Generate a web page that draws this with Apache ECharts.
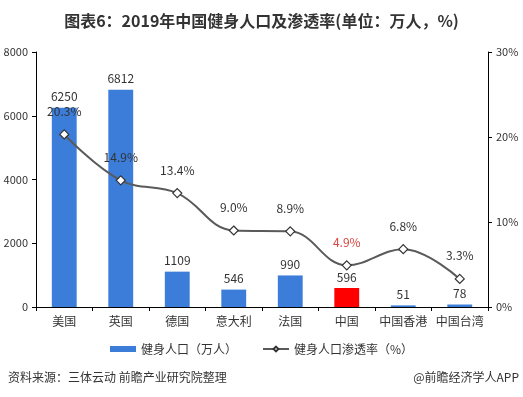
<!DOCTYPE html>
<html>
<head>
<meta charset="utf-8">
<script src="https://cdn.jsdelivr.net/npm/echarts@6/dist/echarts.min.js"></script>
<style>
html,body{margin:0;padding:0;background:#fff;}
#main{width:523px;height:397px;}
</style>
</head>
<body>
<div id="main"></div>
<script>
// 数据
var categories = ['美国', '英国', '德国', '意大利', '法国', '中国', '中国香港', '中国台湾'];
var population = [6250, 6812, 1109, 546, 990, 596, 51, 78];
var rate = [20.3, 14.9, 13.4, 9.0, 8.9, 4.9, 6.8, 3.3];
var leftTicks = [0, 8000, 2000];
var rightTicks = [0, 30, 10];

var font = '"Noto Sans CJK SC", "Microsoft YaHei", sans-serif';
var blue = '#3B7DD8';
var red = '#FF0000';

var chart = echarts.init(document.getElementById('main'));

var barData = population.map(function (v, i) {
    if (categories[i] === '中国') {
        return {value: v, itemStyle: {color: red}};
    }
    return v;
});
var lineData = rate.map(function (v, i) {
    if (categories[i] === '中国') {
        return {value: v, label: {color: '#D9443F'}};
    }
    return v;
});

var option = {
    backgroundColor: '#fff',
    textStyle: {fontFamily: font},
    title: {
        text: '图表6：2019年中国健身人口及渗透率(单位：万人，%)',
        left: 'center',
        top: 8,
        textStyle: {fontSize: 16, fontWeight: 'bold', color: '#333', fontFamily: font}
    },
    legend: {
        bottom: 37,
        left: 'center',
        itemGap: 25,
        textStyle: {fontSize: 12, color: '#333', fontFamily: font},
        data: [
            {name: '健身人口（万人）', icon: 'rect', itemStyle: {color: blue}},
            {name: '健身人口渗透率（%）'}
        ],
        itemWidth: 26,
        itemHeight: 6
    },
    grid: {
        left: 36,
        right: 35,
        top: 52,
        bottom: 90
    },
    xAxis: {
        type: 'category',
        data: categories,
        axisLine: {lineStyle: {color: '#000'}},
        axisTick: {show: true, length: 4, lineStyle: {color: '#000'}},
        axisLabel: {color: '#333', fontSize: 12, margin: 8, interval: 0}
    },
    yAxis: [
        {
            type: 'value',
            min: leftTicks[0],
            max: leftTicks[1],
            interval: leftTicks[2],
            axisLine: {show: true, lineStyle: {color: '#000'}},
            axisTick: {show: true, length: 4, lineStyle: {color: '#000'}},
            splitLine: {show: false},
            axisLabel: {
                color: '#333', fontSize: 11, margin: 8,
                formatter: function (v) { return String(v); }
            }
        },
        {
            type: 'value',
            min: rightTicks[0],
            max: rightTicks[1],
            interval: rightTicks[2],
            axisLine: {show: true, lineStyle: {color: '#000'}},
            axisTick: {show: true, length: 4, lineStyle: {color: '#000'}},
            splitLine: {show: false},
            axisLabel: {color: '#333', fontSize: 11, margin: 8, formatter: '{value}%'}
        }
    ],
    series: [
        {
            name: '健身人口（万人）',
            type: 'bar',
            barWidth: '44%',
            itemStyle: {color: blue},
            label: {show: true, position: 'top', color: '#333', fontSize: 12, distance: 5},
            data: barData
        },
        {
            name: '健身人口渗透率（%）',
            type: 'line',
            yAxisIndex: 1,
            smooth: 0.4,
            symbol: 'diamond',
            symbolSize: 9,
            lineStyle: {color: '#5A5A5A', width: 2},
            itemStyle: {color: '#fff', borderColor: '#333', borderWidth: 1.2},
            label: {
                show: true,
                position: 'top',
                distance: 12,
                color: '#333',
                fontSize: 12,
                formatter: function (p) { return p.value.toFixed(1) + '%'; }
            },
            data: lineData
        }
    ],
    graphic: [
        {
            type: 'text',
            left: 8,
            top: 371,
            style: {text: '资料来源：三体云动 前瞻产业研究院整理', fontSize: 12, fill: '#333', fontFamily: font}
        },
        {
            type: 'text',
            right: 4,
            top: 371,
            style: {text: '@前瞻经济学人APP', fontSize: 12, fill: '#333', fontFamily: font}
        }
    ]
};
chart.setOption(option);
</script>
</body>
</html>
